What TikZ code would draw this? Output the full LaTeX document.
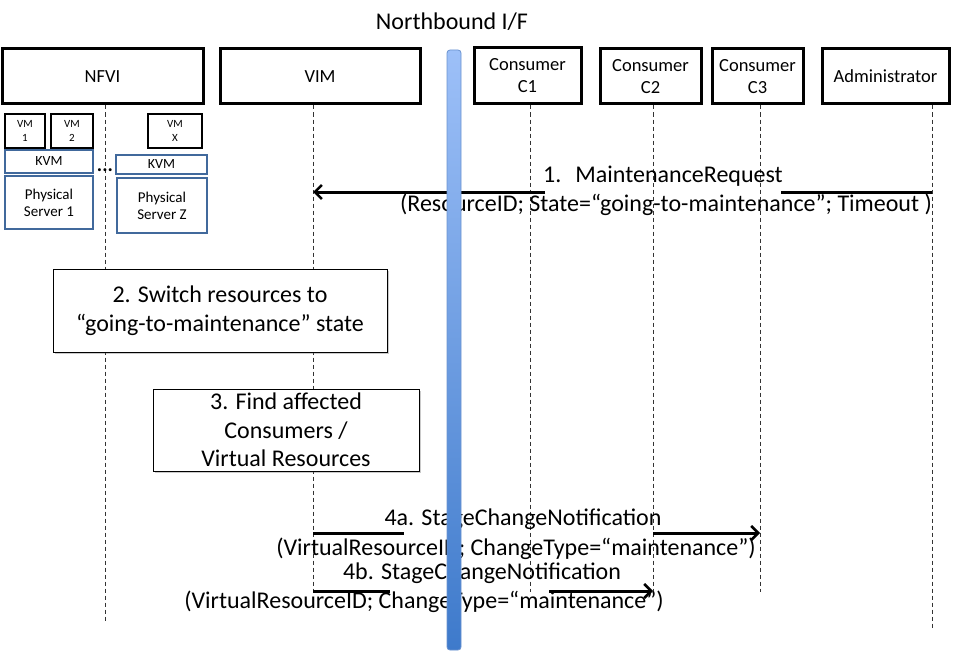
\documentclass[tikz,border=0pt]{standalone}
\usepackage{fontspec}
\setmainfont{Carlito}
\usetikzlibrary{arrows.meta,shadows}
\newcommand\fsz[2]{\fontsize{#1}{#2}\selectfont}
\definecolor{frameblue}{HTML}{41699C}
\definecolor{bartop}{HTML}{9DC0F8}
\definecolor{barbot}{HTML}{3E7ACB}
\definecolor{baredge}{HTML}{6B93CF}
\tikzset{
  actor/.style={draw, line width=3pt, fill=white, align=center, inner sep=0pt,
                font=\fsz{18.5}{22}},
  vmbox/.style={draw, line width=2.5pt, fill=white, align=center, inner sep=0pt,
                font=\fsz{11}{14}},
  hwbox/.style={draw=frameblue, line width=2.3pt, fill=white, align=center, inner sep=0pt},
  stepbox/.style={draw, line width=0.9pt, fill=white, align=center, inner sep=0pt,
                  font=\fsz{24}{28.5},
                  drop shadow={shadow xshift=2pt, shadow yshift=-2pt, opacity=0.35, fill=black!60}},
  life/.style={line width=0.8pt, black!80, dash pattern=on 4pt off 3pt},
  msgline/.style={line width=3pt},
  msgarrow/.style={line width=3pt, -{Straight Barb[length=7pt,width=14pt,line width=2.6pt]}},
  msglabel/.style={inner sep=0pt, font=\fsz{24}{28}},
}
\begin{document}
\begin{tikzpicture}[x=1pt,y=-1pt]
\useasboundingbox (0,0) rectangle (965,658);

% interface title
\node[font=\fsz{24}{28}] (title) at (452,22) {Northbound I/F};

% participants
\node[actor, minimum width=201pt, minimum height=55pt] (nfvi) at (102.5,76.5) {NFVI};
\node[actor, minimum width=200pt, minimum height=55pt] (vim)  at (320,76.5) {VIM};
\node[actor, minimum width=107pt, minimum height=56pt] (c1)   at (527.5,76) {Consumer\\C1};
\node[actor, minimum width=101pt, minimum height=55pt] (c2)   at (650.5,76.5) {Consumer\\C2};
\node[actor, minimum width=91pt,  minimum height=55pt] (c3)   at (757.5,76.5) {Consumer\\C3};
\node[actor, minimum width=127pt, minimum height=55pt] (adm)  at (885.5,76.5) {Administrator};

% lifeline ends
\coordinate (nfviB) at (105,622);
\coordinate (vimB)  at (313,591);
\coordinate (c1B)   at (530,592);
\coordinate (c2B)   at (653,592);
\coordinate (c3B)   at (760,592);
\coordinate (admB)  at (932,630);

\draw[life] (nfviB |- nfvi.south) -- (nfviB);
\draw[life] (vimB |- vim.south) -- (vimB);
\draw[life] (c1B |- c1.south) -- (c1B);
\draw[life] (c2B |- c2.south) -- (c2B);
\draw[life] (c3B |- c3.south) -- (c3B);
\draw[life] (admB |- adm.south) -- (admB);

% NFVI internals
\node[vmbox, minimum width=40pt, minimum height=34pt] (vm1) at (25,131) {VM\\1};
\node[vmbox, minimum width=42pt, minimum height=34pt] (vm2) at (72,131) {VM\\2};
\node[vmbox, minimum width=54pt, minimum height=34pt] (vmx) at (175,131) {VM\\X};
\node[hwbox, minimum width=88pt, minimum height=23pt, font=\fsz{14}{16}] (kvm1) at (49,161.5) {KVM};
\node[hwbox, minimum width=91pt, minimum height=19pt, font=\fsz{14}{16}] (kvm2) at (161.5,164.5) {KVM};
\node[hwbox, minimum width=88pt, minimum height=53pt, font=\fsz{15}{17}] (ps1) at (49,202.5) {Physical\\Server 1};
\node[hwbox, minimum width=90pt, minimum height=55pt, font=\fsz{15}{17}] (psz) at (162,205.5) {Physical\\Server Z};
\node[font=\fsz{20}{20}\bfseries, inner sep=0pt] (dots) at (105,170) {...};

% processing steps
\node[stepbox, minimum width=334pt, minimum height=83pt] (s2) at (220,310.5)
  {2. Switch resources to\\“going-to-maintenance” state};
\node[stepbox, minimum width=266pt, minimum height=82pt] (s3) at (286,430)
  {3. Find affected\\Consumers /\\Virtual Resources};

% message 1: Administrator -> VIM
\coordinate (m1s) at (932,192);
\coordinate (m1e) at (313,192);
\coordinate (m1r) at (781,192);
\coordinate (m1l) at (545,192);
\draw[msgline] (m1s) -- (m1r);
\draw[msgarrow] (m1l) -- (m1e);
\node[msglabel] (m1t) at (663,176) {1.\hspace{14pt}MaintenanceRequest};
\node[msglabel] (m1p) at (666,205) {(ResourceID; State=“going-to-maintenance”; Timeout )};

% message 4a: VIM -> Consumer C3
\coordinate (m4as) at (313,533);
\coordinate (m4ae) at (760,533);
\coordinate (m4al) at (404,533);
\coordinate (m4ar) at (653,533);
\draw[msgline] (m4as) -- (m4al);
\draw[msgarrow] (m4ar) -- (m4ae);
\node[msglabel] (m4at) at (523,519) {4a. StageChangeNotification};
\node[msglabel] (m4ap) at (516,549) {(VirtualResourceID; ChangeType=“maintenance”)};

% message 4b: VIM -> Consumer C2
\coordinate (m4bs) at (313,591);
\coordinate (m4be) at (653,591);
\coordinate (m4bl) at (390,591);
\coordinate (m4br) at (549,591);
\draw[msgline] (m4bs) -- (m4bl);
\draw[msgarrow] (m4br) -- (m4be);
\node[msglabel] (m4bt) at (482,573) {4b. StageChangeNotification};
\node[msglabel] (m4bp) at (424,602) {(VirtualResourceID; ChangeType=“maintenance”)};

% northbound interface bar
\draw[baredge, line width=0.8pt, rounded corners=3pt, top color=bartop, bottom color=barbot]
  (447,50) rectangle (461,650);
\end{tikzpicture}
\end{document}
